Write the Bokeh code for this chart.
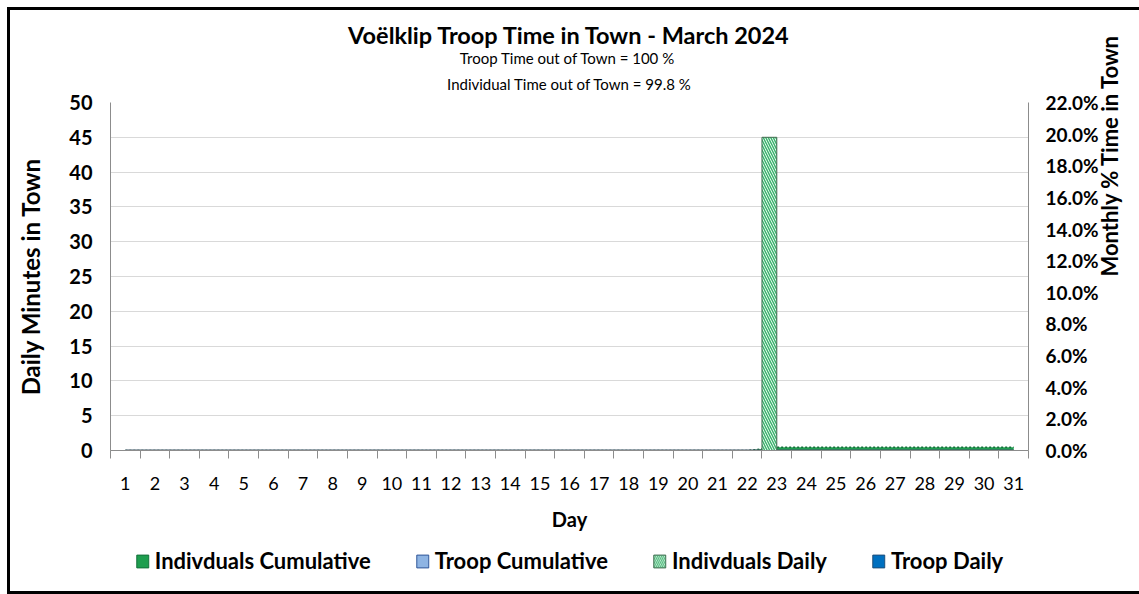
import math
from bokeh.plotting import figure
from bokeh.layouts import column
from bokeh.models import (ColumnDataSource, Range1d, LinearAxis, FixedTicker,
                          NumeralTickFormatter, Legend, LegendItem, Title)
from bokeh.transform import dodge
from bokeh.embed import file_html
from bokeh.resources import INLINE

# ---------------- data ----------------
days = [1, 2, 3, 4, 5, 6, 7, 8, 9, 10, 11, 12, 13, 14, 15, 16, 17, 18, 19, 20,
        21, 22, 23, 24, 25, 26, 27, 28, 29, 30, 31]
indiv_daily_min = [0, 0, 0, 0, 0, 0, 0, 0, 0, 0, 0, 0, 0, 0, 0, 0, 0, 0, 0, 0,
                   0, 0, 45, 0, 0, 0, 0, 0, 0, 0, 0]
troop_daily_min = [0, 0, 0, 0, 0, 0, 0, 0, 0, 0, 0, 0, 0, 0, 0, 0, 0, 0, 0, 0,
                   0, 0, 0, 0, 0, 0, 0, 0, 0, 0, 0]
indiv_cum_pct = [0, 0, 0, 0, 0, 0, 0, 0, 0, 0, 0, 0, 0, 0, 0, 0, 0, 0, 0, 0,
                 0, 0, 0.2, 0.2, 0.2, 0.2, 0.2, 0.2, 0.2, 0.2, 0.2]
troop_cum_pct = [0, 0, 0, 0, 0, 0, 0, 0, 0, 0, 0, 0, 0, 0, 0, 0, 0, 0, 0, 0,
                 0, 0, 0, 0, 0, 0, 0, 0, 0, 0, 0]
left_ticks = [0, 5, 10, 15, 20, 25, 30, 35, 40, 45, 50]
right_ticks_pct = [0, 2, 4, 6, 8, 10, 12, 14, 16, 18, 20, 22]
legend_labels = ["Indivduals Cumulative", "Troop Cumulative", "Indivduals Daily", "Troop Daily"]

title_text = "Voëlklip Troop Time in Town - March 2024"
sub1_text = "Troop Time out of Town = 100  %"
sub2_text = "Individual Time out of Town = 99.8 %"

FONT = "Lato"
W = 1139
H_MAIN, H_LEG = 544, 50

GREEN = "#1e9e4f"
DKGREEN = "#13703a"
LTBLUE = "#8eb4e3"
DKBLUE = "#44546a"
BLUE = "#0070c0"
HATCH_FILL = "white"
HATCH_COL = "#3cb46e"
AXC = "#8c8c8c"

src = ColumnDataSource(dict(
    day=days,
    ind_daily=indiv_daily_min,
    troop_daily=troop_daily_min,
    ind_cum=[v / 100 for v in indiv_cum_pct],
    troop_cum=[v / 100 for v in troop_cum_pct],
    zero=[0] * len(days),
))

p = figure(width=W, height=H_MAIN, output_backend="svg", toolbar_location=None,
           x_range=Range1d(0.5, 31.5), y_range=Range1d(0, 50),
           min_border_left=110, min_border_right=104, min_border_top=102,
           min_border_bottom=H_MAIN - 450, outline_line_color=None,
           background_fill_color="white", border_fill_color="white", border_fill_alpha=0)
p.extra_y_ranges = {"pct": Range1d(0, 0.22)}

# x axis
xa = p.xaxis[0]
xa.ticker = FixedTicker(ticks=days, minor_ticks=[d - 0.5 for d in days] + [31.5])
xa.major_tick_line_color = None
xa.major_tick_out = 0
xa.major_tick_in = 0
xa.minor_tick_line_color = AXC
xa.minor_tick_out = 8
xa.minor_tick_in = 0
xa.axis_line_color = AXC
xa.major_label_standoff = 18
xa.major_label_text_font = FONT
xa.major_label_text_font_size = "18px"
xa.major_label_text_color = "#000000"
xa.axis_label = "Day"
xa.axis_label_text_font = FONT
xa.axis_label_text_font_size = "20px"
xa.axis_label_text_font_style = "bold"
xa.axis_label_text_color = "#000000"
xa.axis_label_standoff = 14

# left axis
ya = p.yaxis[0]
ya.ticker = FixedTicker(ticks=left_ticks)
ya.major_tick_line_color = None
ya.minor_tick_line_color = None
ya.major_tick_out = 0
ya.axis_line_color = AXC
ya.major_label_standoff = 18
ya.major_label_text_font = FONT
ya.major_label_text_font_size = "20px"
ya.major_label_text_font_style = "bold"
ya.major_label_text_color = "#000000"
ya.axis_label = "Daily Minutes in Town"
ya.axis_label_text_font = FONT
ya.axis_label_text_font_size = "24px"
ya.axis_label_text_font_style = "bold"
ya.axis_label_text_color = "#000000"
ya.axis_label_standoff = 21

# right axis
ra = LinearAxis(y_range_name="pct", ticker=FixedTicker(ticks=[t / 100 for t in right_ticks_pct]),
                formatter=NumeralTickFormatter(format="0.0%"))
ra.major_tick_line_color = None
ra.minor_tick_line_color = None
ra.major_tick_out = 0
ra.axis_line_color = AXC
ra.major_label_standoff = 17
ra.major_label_text_font = FONT
ra.major_label_text_font_size = "19px"
ra.major_label_text_font_style = "bold"
ra.major_label_text_color = "#000000"
ra.axis_label = "Monthly % Time in Town"
ra.axis_label_text_font = FONT
ra.axis_label_text_font_size = "22px"
ra.axis_label_text_font_style = "bold"
ra.axis_label_text_color = "#000000"
ra.axis_label_text_line_height = 1.0
ra.axis_label_standoff = 8
ra.axis_label_orientation = math.pi / 2
p.add_layout(ra, "right")

# grids
p.xgrid.grid_line_color = None
p.ygrid.ticker = FixedTicker(ticks=left_ticks)
p.ygrid.grid_line_color = "#d9d9d9"
p.ygrid.grid_line_width = 1

# titles (later added = further from plot)
p.add_layout(Title(text=sub2_text, align="center", text_font=FONT, text_font_size="15px",
                   text_font_style="normal", text_color="#000000", standoff=19), "above")
p.add_layout(Title(text=sub1_text, align="center", text_font=FONT, text_font_size="15px",
                   text_font_style="normal", text_color="#000000", standoff=-7), "above")
p.add_layout(Title(text=title_text, align="center", text_font=FONT, text_font_size="23.5px",
                   text_font_style="bold", text_color="#000000", standoff=3), "above")

# series
p.varea(x="day", y1="zero", y2="ind_cum", source=src, y_range_name="pct", fill_color=GREEN)
p.line(x="day", y="ind_cum", source=src, y_range_name="pct", line_color=DKGREEN,
       line_width=1.5, line_dash="2 2")
p.varea(x="day", y1="zero", y2="troop_cum", source=src, y_range_name="pct", fill_color=LTBLUE)
p.line(x="day", y="troop_cum", source=src, y_range_name="pct", line_color=DKBLUE, line_width=2)
p.vbar(x=dodge("day", -0.25, range=p.x_range), width=0.5, top="ind_daily", bottom=0,
       source=src, fill_color=HATCH_FILL, line_color="#3d6b4d", line_width=1,
       hatch_pattern="\\", hatch_color=HATCH_COL, hatch_scale=5, hatch_weight=1.5)
p.vbar(x=dodge("day", 0.25, range=p.x_range), width=0.5, top="troop_daily", bottom=0,
       source=src, fill_color=BLUE, line_color=None)

# ---------- legend strip (separate figure below the chart) ----------
# legend proxies: the same series, hidden, so that only their legend swatches show
pl = figure(width=W, height=H_LEG, output_backend="svg", toolbar_location=None,
            x_range=Range1d(0.5, 31.5), y_range=Range1d(0, 1),
            min_border=0, outline_line_color=None,
            background_fill_alpha=0, border_fill_alpha=0)
pl.axis.visible = False
pl.grid.visible = False
g1 = pl.vbar(x="day", top="ind_cum", width=0.5, source=src, fill_color=GREEN,
             line_color=DKGREEN, visible=False)
g2 = pl.vbar(x="day", top="troop_cum", width=0.5, source=src, fill_color=LTBLUE,
             line_color="#2f5597", visible=False)
g3 = pl.vbar(x="day", top="ind_daily", width=0.5, source=src, fill_color=HATCH_FILL,
             line_color="#3d6b4d", hatch_pattern="\\", hatch_color=HATCH_COL,
             hatch_scale=4, hatch_weight=1.2, visible=False)
g4 = pl.vbar(x="day", top="troop_daily", width=0.5, source=src, fill_color=BLUE,
             line_color="#1f4e79", visible=False)

legend = Legend(items=[LegendItem(label=lab, renderers=[r])
                       for lab, r in zip(legend_labels, [g1, g2, g3, g4])],
                orientation="horizontal", location="top_center")
legend.label_text_font = FONT
legend.label_text_font_size = "22px"
legend.label_text_font_style = "bold"
legend.label_text_color = "#000000"
legend.glyph_width = 15
legend.glyph_height = 16
legend.label_standoff = 5
legend.spacing = 44
legend.padding = 2
legend.margin = 3
legend.border_line_color = None
legend.background_fill_alpha = 0
pl.add_layout(legend)

lay = column(p, pl, spacing=0,
             styles={"box-shadow": "inset 7px 7px 0 0 white, inset 10px 10px 0 0 black, "
                                   "inset 0 -3px 0 0 black",
                     "background-color": "white"})

open("out.html", "w").write(file_html(lay, INLINE))
